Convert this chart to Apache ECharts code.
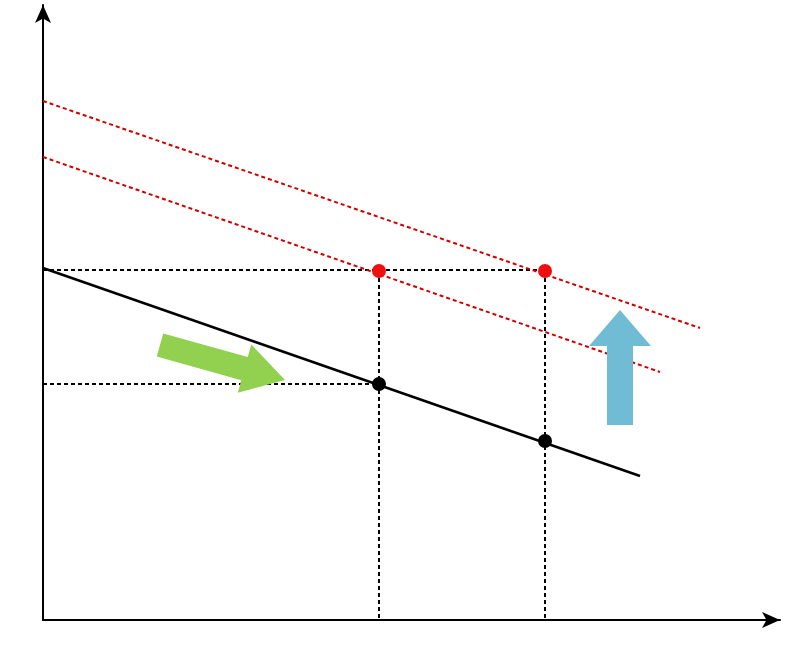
<!DOCTYPE html>
<html><head><meta charset="utf-8">
<script src="https://cdn.jsdelivr.net/npm/echarts@6/dist/echarts.min.js"></script>
<style>html,body{margin:0;padding:0;background:#fff}#c{width:785px;height:659px}</style>
</head><body><div id="c"></div>
<script>
// Diagram coordinates (x: current, y: voltage), origin at axes crossing
const droopLine = [[0,352],[597,144]];
const newLineUpper = [[0,519],[657,292]];
const newLineLower = [[0,463],[617,248]];
const voGuide = [[0,350],[502,350]];
const op1Guide = [[0,236],[336,236]];
const idc1Guide = [[336,349],[336,0]];
const idc2Guide = [[502,349],[502,0]];
const blackPoints = [[336,236],[502,179]];
const redPoints = [[336,349],[502,349]];
// arrows: tailX, tailY, tipX, tipY, bodyWidth, headWidth, headLength
const arrows = [[117,275,242,240,24,50,42,'#92d050'],[577,195,577,310,26,62,36,'#70bcd4']];
const labels = [
  {pos:[-38,600], text:'{i|v}{s|dc}', color:'#000'},
  {pos:[-34,350], text:'{i|v}{s|o}', color:'#000'},
  {pos:[195,325], text:'OP1_new', color:'#e00000'},
  {pos:[495,377], text:'OP2_new', color:'#e00000'},
  {pos:[65,192], text:'Primary', color:'#000'},
  {pos:[345,192], text:'OP1', color:'#000'},
  {pos:[502,128], text:'OP2', color:'#000'},
  {pos:[609,196], text:'Secondary', color:'#000'},
  {pos:[322,-20], text:'{i|i}{s|dc1}', color:'#000'},
  {pos:[488,-20], text:'{i|i}{s|dc2}', color:'#000'},
  {pos:[676,-20], text:'{i|i}{s|dc}', color:'#000'}
];
const font = 'Liberation Serif';
const chart = echarts.init(document.getElementById('c'));
const dash = (d, color) => ({type:'line', data:d, symbol:'none', silent:true,
  lineStyle:{color, width:2, type:[4,3]}, z:2});
chart.setOption({
  animation:false,
  grid:{left:43,right:5,top:5,bottom:39},
  xAxis:{type:'value',min:0,max:737,axisLine:{show:true,symbol:['none','arrow'],symbolSize:[12,18],lineStyle:{color:'#000',width:2}},axisTick:{show:false},axisLabel:{show:false},splitLine:{show:false}},
  yAxis:{type:'value',min:0,max:615,axisLine:{show:true,symbol:['none','arrow'],symbolSize:[12,18],lineStyle:{color:'#000',width:2}},axisTick:{show:false},axisLabel:{show:false},splitLine:{show:false}},
  series:[
    dash(voGuide,'#000'), dash(op1Guide,'#000'), dash(idc1Guide,'#000'), dash(idc2Guide,'#000'),
    dash(newLineUpper,'#d00000'), dash(newLineLower,'#d00000'),
    {type:'line',data:droopLine,symbol:'none',lineStyle:{color:'#000',width:2.5},z:3},
    {type:'scatter',data:blackPoints,symbolSize:14,itemStyle:{color:'#000',opacity:1},z:5},
    {type:'scatter',data:redPoints,symbolSize:14,itemStyle:{color:'#ee1010',opacity:1},z:5},
    {type:'custom',data:arrows,z:4,renderItem:(p,api)=>{
      const d=arrows[p.dataIndex];
      const a=api.coord([d[0],d[1]]), b=api.coord([d[2],d[3]]);
      const dx=b[0]-a[0], dy=b[1]-a[1], L=Math.hypot(dx,dy);
      const ux=dx/L, uy=dy/L, nx=-uy, ny=ux;
      const bw=d[4]/2, hw=d[5]/2, hl=d[6];
      const nb=[b[0]-ux*hl,b[1]-uy*hl];
      const pts=[[a[0]+nx*bw,a[1]+ny*bw],[nb[0]+nx*bw,nb[1]+ny*bw],[nb[0]+nx*hw,nb[1]+ny*hw],b,
        [nb[0]-nx*hw,nb[1]-ny*hw],[nb[0]-nx*bw,nb[1]-ny*bw],[a[0]-nx*bw,a[1]-ny*bw]];
      return {type:'polygon',shape:{points:pts},style:{fill:d[7]}};
    }},
    {type:'scatter',symbolSize:1,clip:false,z:6,itemStyle:{opacity:0},data:labels.map(l=>({value:l.pos,
      label:{show:true,position:'right',distance:0,formatter:l.text,color:l.color,fontFamily:font,fontSize:26,
        rich:{i:{fontStyle:'italic',fontFamily:font,fontSize:28,color:l.color},s:{fontStyle:'italic',fontFamily:font,fontSize:17,color:l.color,padding:[12,0,0,0]}}}}))}
  ]
});
</script></body></html>
